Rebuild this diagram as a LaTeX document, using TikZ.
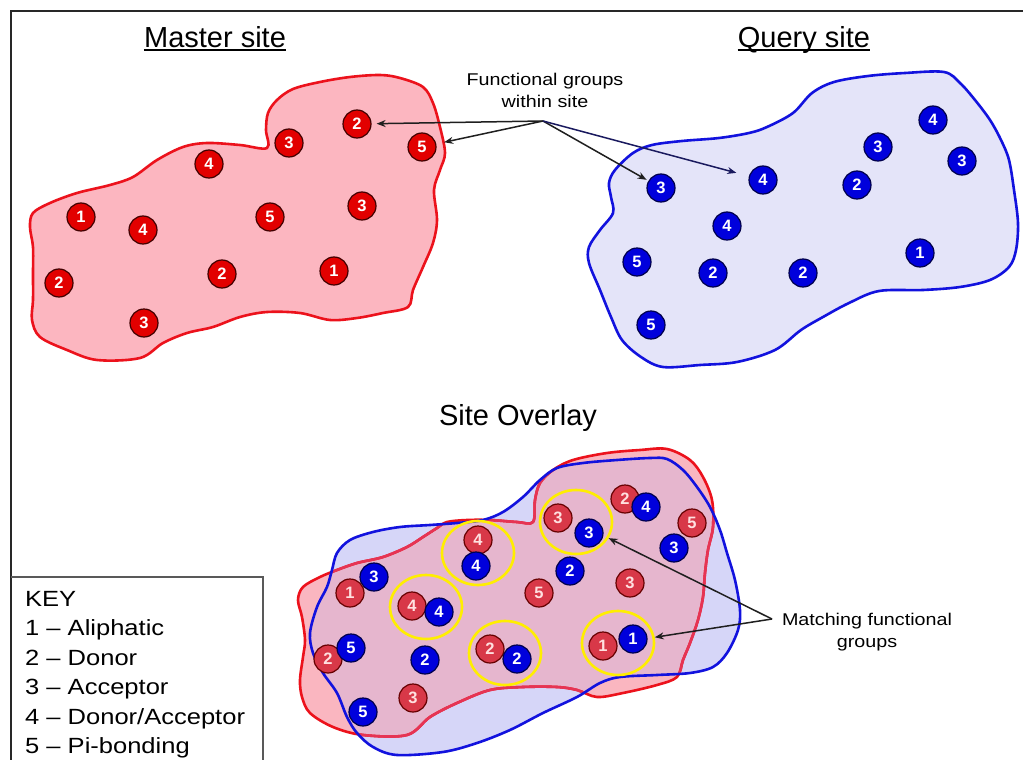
\documentclass[tikz,border=0pt]{standalone}
\usepackage{fontspec}
\setmainfont{Liberation Sans}
\usepackage{graphicx}
\usetikzlibrary{arrows.meta,shapes.geometric,calc}

\definecolor{mfill}{RGB}{252,182,192}
\definecolor{mline}{RGB}{236,18,28}
\definecolor{qfill}{RGB}{228,228,249}
\definecolor{qline}{RGB}{18,18,222}
\definecolor{ovred}{RGB}{250,182,192}
\definecolor{ovblue}{RGB}{214,214,248}
\definecolor{ovmix}{RGB}{230,182,206}
\definecolor{ovredline}{RGB}{230,52,84}
\definecolor{dotred}{RGB}{226,0,0}
\definecolor{dotredlight}{RGB}{216,56,72}
\definecolor{dotblue}{RGB}{0,0,220}
\definecolor{ringyellow}{RGB}{255,238,0}
\definecolor{frame}{RGB}{40,40,40}

\newcommand\wide[1]{\scalebox{1.16}[1]{#1}}

% outlines of the two sites
\newcommand\masteroutline{plot[smooth cycle, tension=0.55] coordinates {
 (267,148) (266,130) (268,113) (277,100) (293,89) (320,82) (350,77) (380,75)
 (400,78) (423,87) (433,103) (440,127) (445,153) (440,170) (434,190) (437,220)
 (433,243) (423,267) (413,290) (408,307) (383,313) (357,318) (330,320) (300,313)
 (267,312) (240,317) (213,327) (187,333) (163,343) (140,358) (97,360) (67,350)
 (40,337) (32,320) (33,300) (33,273) (33,247) (30,227) (33,213) (50,203)
 (77,193) (110,185) (133,177) (157,160) (183,147) (207,143) (240,145)}}
\newcommand\queryoutline{plot[smooth cycle, tension=0.55] coordinates {
 (609,183) (615,170) (633,153) (652,145) (682,141) (719,138) (749,133) (767,127)
 (793,113) (812,93) (834,82) (868,76) (905,73) (944,72) (960,83) (975,100)
 (990,120) (1001,140) (1009,160) (1014,190) (1018,223) (1016,250) (1009,267)
 (990,280) (960,287) (923,290) (879,291) (849,303) (823,317) (801,330) (775,350)
 (737,362) (700,365) (663,367) (641,357) (622,340) (611,317) (600,290) (589,263)
 (589,247) (600,230) (613,213) (611,197)}}
\newcommand\ovmasteroutline{plot[smooth cycle, tension=0.55] coordinates {
 (298,600) (303,587) (320,577) (337,570) (357,563) (383,557) (407,547) (423,537)
 (437,528) (447,522) (467,520) (490,520) (517,522) (533,522) (535,500) (540,483)
 (553,470) (573,460) (607,453) (640,450) (667,449) (690,460) (703,477) (712,500)
 (713,527) (708,550) (705,573) (703,597) (698,620) (690,643) (683,660) (677,677)
 (657,685) (623,693) (597,697) (577,690) (557,687) (523,687) (490,690) (457,703)
 (430,717) (407,735) (363,735) (333,727) (310,713) (302,697) (300,680) (303,657)
 (305,640) (302,617)}}
\newcommand\ovqueryoutline{plot[smooth cycle, tension=0.55] coordinates {
 (332,570) (337,553) (350,540) (373,532) (400,527) (430,525) (457,523) (483,520)
 (503,512) (523,497) (540,480) (557,468) (583,463) (617,460) (650,458) (667,459)
 (683,470) (697,487) (710,507) (720,530) (727,553) (735,580) (740,610) (738,630)
 (727,653) (713,667) (690,673) (657,675) (620,677) (600,683) (577,697) (543,713)
 (510,730) (477,743) (443,752) (397,755) (373,747) (357,733) (347,717) (337,693)
 (323,673) (313,653) (310,633) (317,607) (327,587)}}

\tikzset{
  dotbase/.style={circle, inner sep=0pt, minimum size=28pt, line width=1.2pt,
    font=\fontsize{16.5}{16.5}\selectfont\bfseries},
  mdot/.style={dotbase, fill=dotred, draw=black!75!red, text=white},
  qdot/.style={dotbase, fill=dotblue, draw=black!70!blue, text=white},
  rdot/.style={dotbase, fill=dotredlight, draw=black!60!red, text=red!12},
  ring/.style={ellipse, draw=ringyellow, line width=2.6pt, minimum width=72pt,
    minimum height=64pt, inner sep=0pt},
  outline/.style={line width=2.6pt},
  title/.style={inner sep=0pt, font=\fontsize{29}{34}\selectfont},
  smalltext/.style={inner sep=0pt, align=center, font=\fontsize{17}{22}\selectfont},
  keytext/.style={inner sep=0pt, anchor=base west, font=\fontsize{22}{26}\selectfont},
  uline/.style={line width=1.4pt, draw=black},
  arr/.style={-{Stealth[length=9pt,width=7pt]}, line width=1.5pt, draw=black!88},
  framerule/.style={line width=2pt, draw=frame},
  keyrule/.style={line width=1.6pt, draw=black!65},
}

\begin{document}
\begin{tikzpicture}[x=1pt, y=-1pt]
\useasboundingbox (0,0) rectangle (1023,760);
\fill[white] (0,0) rectangle (1023,760);

% frame and key box
\draw[framerule] (1023,11) -- (11,11) -- (11,760);
\draw[keyrule] (11,577) -- (263,577) -- (263,760);

% master site
\fill[mfill] \masteroutline;
\draw[mline, outline] \masteroutline;
% query site
\fill[qfill] \queryoutline;
\draw[qline, outline] \queryoutline;

% overlay of both sites
\fill[ovblue] \ovqueryoutline;
\fill[ovred] \ovmasteroutline;
\begin{scope}
  \clip \ovqueryoutline;
  \fill[ovmix] \ovmasteroutline;
\end{scope}
\draw[mline, outline] \ovmasteroutline;
\begin{scope}
  \clip \ovqueryoutline;
  \draw[ovredline, outline] \ovmasteroutline;
\end{scope}
\draw[qline, outline] \ovqueryoutline;

% titles
\node[title, anchor=base] (mtitle) at (215,47.5) {Master site};
\draw[uline] ([yshift=-2.5pt]mtitle.base west) -- ([yshift=-2.5pt]mtitle.base east);
\node[title, anchor=base] (qtitle) at (804,47.5) {Query site};
\draw[uline] ([yshift=-2.5pt]qtitle.base west) -- ([yshift=-2.5pt]qtitle.base east);
\node[title, anchor=base] (otitle) at (518,425) {Site Overlay};

% functional groups of the master site
\node[mdot] (ma) at (357,124) {2};
\node[mdot] (mb) at (289,143) {3};
\node[mdot] (mc) at (422,147) {5};
\node[mdot] (md) at (209,164) {4};
\node[mdot] (me) at (81,217) {1};
\node[mdot] (mf) at (143,230) {4};
\node[mdot] (mg) at (270,217) {5};
\node[mdot] (mh) at (362,206) {3};
\node[mdot] (mi) at (59,283) {2};
\node[mdot] (mj) at (222,274) {2};
\node[mdot] (mk) at (334,271) {1};
\node[mdot] (ml) at (144,323) {3};

% functional groups of the query site
\node[qdot] (qa) at (933,120) {4};
\node[qdot] (qb) at (878,147) {3};
\node[qdot] (qc) at (962,161) {3};
\node[qdot] (qd) at (763,180) {4};
\node[qdot] (qe) at (857,185) {2};
\node[qdot] (qf) at (661,188) {3};
\node[qdot] (qg) at (727,226) {4};
\node[qdot] (qh) at (920,253) {1};
\node[qdot] (qi) at (637,262) {5};
\node[qdot] (qj) at (713,273) {2};
\node[qdot] (qk) at (803,273) {2};
\node[qdot] (ql) at (651,325) {5};

% overlay: master groups
\node[rdot] (ra) at (478,540) {4};
\node[rdot] (rb) at (558,518) {3};
\node[rdot] (rc) at (625,499) {2};
\node[rdot] (rd) at (692,523) {5};
\node[rdot] (rf) at (412,606) {4};
\node[rdot] (rg) at (539,593) {5};
\node[rdot] (rh) at (630,583) {3};
\node[rdot] (ri) at (328,659) {2};
\node[rdot] (rj) at (490,649) {2};
\node[rdot] (rk) at (603,646) {1};
\node[rdot] (rl) at (413,698) {3};
% overlay: query groups
\node[qdot] (ba) at (476,566) {4};
\node[qdot] (bb) at (589,533) {3};
\node[qdot] (bc) at (646,507) {4};
\node[qdot] (bd) at (674,548) {3};
\node[qdot] (be) at (374,577) {3};
\node[qdot] (bf) at (439,612) {4};
\node[qdot] (bg) at (570,571) {2};
\node[qdot] (bh) at (351,648) {5};
\node[qdot] (bi) at (425,660) {2};
\node[qdot] (bj) at (517,659) {2};
\node[qdot] (bk) at (633,639) {1};
\node[qdot] (bl) at (363,712) {5};
\node[rdot] (re) at (350,593) {1};

% matched pairs
\node[ring] (ya) at (478,553) {};
\node[ring] (yb) at (576,522) {};
\node[ring] (yc) at (426,607) {};
\node[ring] (yd) at (505,653) {};
\node[ring] (ye) at (618,643) {};

% annotations
\node[smalltext] (fglabel) at (545,90) {\wide{Functional groups}\\\wide{within site}};
\coordinate (fgp) at (543,121);
\draw[arr, shorten >=5pt] (fgp) -- (ma);
\draw[arr, shorten >=8pt] (fgp) -- (mc);
\draw[arr, shorten >=2pt] (fgp) -- (qf);
\draw[arr, shorten >=13pt, draw=black!70!blue!90] (fgp) -- (qd);

\node[smalltext] (mflabel) at (867,632) {\wide{Matching functional}\\\wide{groups}};
\coordinate (mfp) at (772,619);
\draw[arr] (mfp) -- (yb);
\draw[arr] (mfp) -- (ye);

% key
\node[keytext] (k0) at (25,606) {\wide{KEY}};
\node[keytext] (k1) at (25,635.5) {\wide{1 -- Aliphatic}};
\node[keytext] (k2) at (25,665) {\wide{2 -- Donor}};
\node[keytext] (k3) at (25,694.5) {\wide{3 -- Acceptor}};
\node[keytext] (k4) at (25,724) {\wide{4 -- Donor/Acceptor}};
\node[keytext] (k5) at (25,753.5) {\wide{5 -- Pi-bonding}};
\end{tikzpicture}
\end{document}
